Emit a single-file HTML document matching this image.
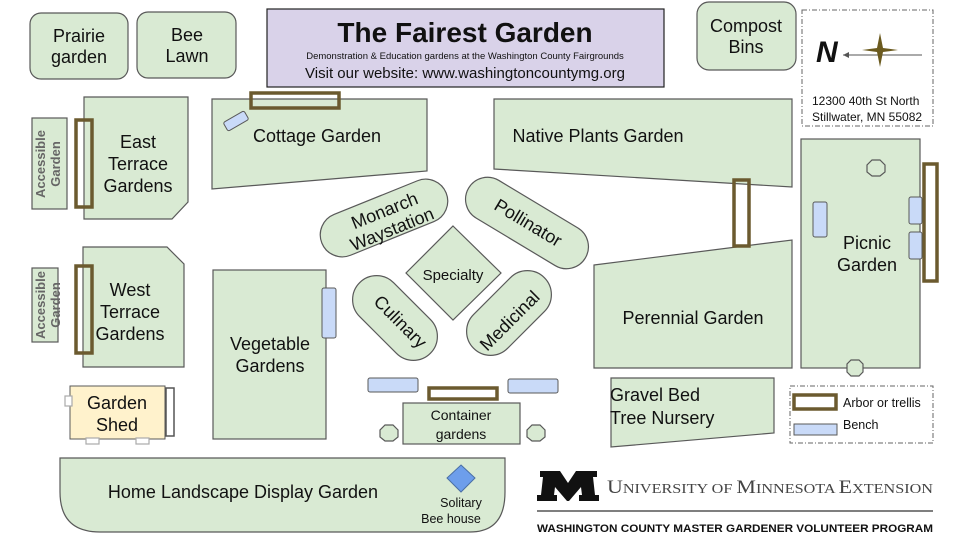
<!DOCTYPE html>
<html><head><meta charset="utf-8"><style>
html,body{margin:0;padding:0;background:#fff;}
svg{display:block;}
text{font-family:"Liberation Sans",sans-serif;fill:#111;}
</style></head><body>
<svg width="960" height="540" viewBox="0 0 960 540" xmlns="http://www.w3.org/2000/svg">
<g fill="#d9ead3" stroke="#595959" stroke-width="1.2">
<rect x="30" y="13" width="98" height="66" rx="11"/>
<rect x="137" y="12" width="99" height="66" rx="11"/>
<rect x="697" y="2" width="99" height="68" rx="12"/>
<rect x="32" y="118" width="35" height="91"/>
<polygon points="84,97 188,97 188,202 172,219 84,219"/>
<polygon points="212,99 427,99 427,171 212,189"/>
<polygon points="494,99 792,99 792,187 494,169"/>
<rect x="801" y="139" width="119" height="229"/>
<polygon points="594,265 792,240 792,368 594,368"/>
<rect x="32" y="268" width="26" height="74"/>
<polygon points="83,247 167,247 184,264 184,367 83,367"/>
<rect x="213" y="270" width="113" height="169"/>
<rect x="403" y="403" width="117" height="41"/>
<polygon points="611,378 774,378 774,433 611,447"/>
<path d="M60,458 H505 V492 Q505,532 470,532 H100 Q60,532 60,492 Z"/>
<rect x="-67" y="-22" width="134" height="44" rx="22" transform="translate(384,218) rotate(-22)"/>
<rect x="-68" y="-22" width="136" height="44" rx="22" transform="translate(527,223) rotate(31)"/>
<polygon points="453,226 501,273 453,320 406,273"/>
<rect x="-50" y="-24" width="100" height="48" rx="24" transform="translate(395,318) rotate(45)"/>
<rect x="-50" y="-24" width="100" height="48" rx="24" transform="translate(509,313) rotate(-45)"/>
<polygon points="872,160 880,160 885,165 885,172 880,176 872,176 867,172 867,165"/>
<polygon points="851,360 859,360 863,364 863,372 859,376 851,376 847,372 847,364"/>
<polygon points="385,425 393,425 398,430 398,437 393,441 385,441 380,437 380,430"/>
<polygon points="532,425 540,425 545,430 545,437 540,441 532,441 527,437 527,430"/>
</g>
<rect x="267" y="9" width="397" height="78" fill="#d9d2e9" stroke="#222" stroke-width="1.2"/>
<text x="465" y="42" font-size="28" font-weight="bold" text-anchor="middle">The Fairest Garden</text>
<text x="465" y="59" font-size="9.5" text-anchor="middle">Demonstration &amp; Education gardens at the Washington County Fairgrounds</text>
<text x="465" y="78" font-size="15" text-anchor="middle">Visit our website: www.washingtoncountymg.org</text>
<rect x="802" y="10" width="131" height="116" fill="none" stroke="#666" stroke-dasharray="5,2,1,2"/>
<text x="816" y="62" font-size="30" font-weight="bold" font-style="italic" font-family="Liberation Serif,serif">N</text>
<line x1="843" y1="55" x2="922" y2="55" stroke="#555" stroke-width="1"/>
<polygon points="843,55 849,52 849,58" fill="#555"/>
<polygon points="880,33 883,48 898,50 883,52 880,67 877,52 862,50 877,48" fill="#6b5a1e"/>
<text x="812" y="105" font-size="12">12300 40th St North</text>
<text x="812" y="121" font-size="12">Stillwater, MN 55082</text>
<g fill="none" stroke="#6b5a2f" stroke-width="3.5">
<rect x="76" y="120" width="16" height="87"/>
<rect x="251" y="93" width="88" height="15"/>
<rect x="734" y="180" width="15" height="66"/>
<rect x="924" y="164" width="13" height="117"/>
<rect x="76" y="266" width="16" height="87"/>
<rect x="429" y="388" width="68" height="11"/>
<rect x="794" y="395" width="42" height="14"/>
</g>
<g fill="#c9daf8" stroke="#595959" stroke-width="1">
<rect x="-12" y="-5" width="24" height="10" rx="2" transform="translate(236,121) rotate(-30)"/>
<rect x="813" y="202" width="14" height="35" rx="2"/>
<rect x="909" y="197" width="13" height="27" rx="2"/>
<rect x="909" y="232" width="13" height="27" rx="2"/>
<rect x="322" y="288" width="14" height="50" rx="2"/>
<rect x="368" y="378" width="50" height="14" rx="2"/>
<rect x="508" y="379" width="50" height="14" rx="2"/>
<rect x="794" y="424" width="43" height="11"/>
</g>
<rect x="70" y="386" width="95" height="53" fill="#fff2cc" stroke="#595959"/>
<rect x="166" y="388" width="8" height="48" fill="#fff" stroke="#555" stroke-width="1.5"/>
<g fill="#fff" stroke="#aaa" stroke-width="1.2">
<rect x="65" y="396" width="7" height="10"/><rect x="86" y="438" width="13" height="6"/><rect x="136" y="438" width="13" height="6"/>
</g>
<polygon points="461,465 475,478 461,492 447,478" fill="#6d9eeb" stroke="#4a6fa5"/>
<rect x="790" y="386" width="143" height="57" fill="none" stroke="#666" stroke-dasharray="5,2,1,2"/>
<g font-size="18" text-anchor="middle">
<text x="79" y="42">Prairie</text><text x="79" y="63">garden</text>
<text x="187" y="41">Bee</text><text x="187" y="62">Lawn</text>
<text x="746" y="32">Compost</text><text x="746" y="53">Bins</text>
<text x="138" y="148">East</text><text x="138" y="170">Terrace</text><text x="138" y="192">Gardens</text>
<text x="317" y="142">Cottage Garden</text>
<text x="598" y="142">Native Plants Garden</text>
<text x="867" y="249">Picnic</text><text x="867" y="271">Garden</text>
<text x="693" y="324">Perennial Garden</text>
<text x="130" y="296">West</text><text x="130" y="318">Terrace</text><text x="130" y="340">Gardens</text>
<text x="270" y="350">Vegetable</text><text x="270" y="372">Gardens</text>
<text x="117" y="409">Garden</text><text x="117" y="431">Shed</text>
<text x="243" y="498">Home Landscape Display Garden</text>
</g>
<text x="610" y="401" font-size="18">Gravel Bed</text>
<text x="610" y="424" font-size="18">Tree Nursery</text>
<text x="453" y="280" font-size="15" text-anchor="middle">Specialty</text>
<text x="461" y="420" font-size="14" text-anchor="middle">Container</text>
<text x="461" y="439" font-size="14" text-anchor="middle">gardens</text>
<text x="461" y="507" font-size="12.5" text-anchor="middle">Solitary</text>
<text x="451" y="523" font-size="12.5" text-anchor="middle">Bee house</text>
<text x="843" y="407" font-size="12.5">Arbor or trellis</text>
<text x="843" y="429" font-size="12.5">Bench</text>
<g font-size="18" text-anchor="middle">
<g transform="translate(388,219) rotate(-22)"><text x="0" y="-3">Monarch</text><text x="0" y="17">Waystation</text></g>
<text transform="translate(525,228) rotate(31)">Pollinator</text>
<text transform="translate(396,326) rotate(45)">Culinary</text>
<text transform="translate(514,325) rotate(-45)">Medicinal</text>
</g>
<g font-size="13" font-weight="bold" text-anchor="middle">
<text transform="translate(45,164) rotate(-90)" style="fill:#666">Accessible</text>
<text transform="translate(60,164) rotate(-90)" style="fill:#666">Garden</text>
<text transform="translate(45,305) rotate(-90)" style="fill:#666">Accessible</text>
<text transform="translate(60,305) rotate(-90)" style="fill:#666">Garden</text>
</g>
<polygon points="540,471 560,471 568,483 576,471 597,471 597,477 593,477 595,495 599,495 599,501 579,501 579,495 582,495 581,487 569,501 567,501 555,487 554,495 557,495 557,501 537,501 537,495 541,495 543,477 540,477" fill="#111"/>
<text x="607" y="493" font-family="Liberation Serif,serif" font-size="19" textLength="326" lengthAdjust="spacingAndGlyphs" style="fill:#444;font-family:'Liberation Serif',serif">U<tspan font-size="14">NIVERSITY OF </tspan>M<tspan font-size="14">INNESOTA </tspan>E<tspan font-size="14">XTENSION</tspan></text>
<line x1="537" y1="511" x2="933" y2="511" stroke="#555" stroke-width="1.5"/>
<text x="537" y="532" font-size="11" font-weight="bold" textLength="396" lengthAdjust="spacingAndGlyphs">WASHINGTON COUNTY MASTER GARDENER VOLUNTEER PROGRAM</text>
</svg>
</body></html>
